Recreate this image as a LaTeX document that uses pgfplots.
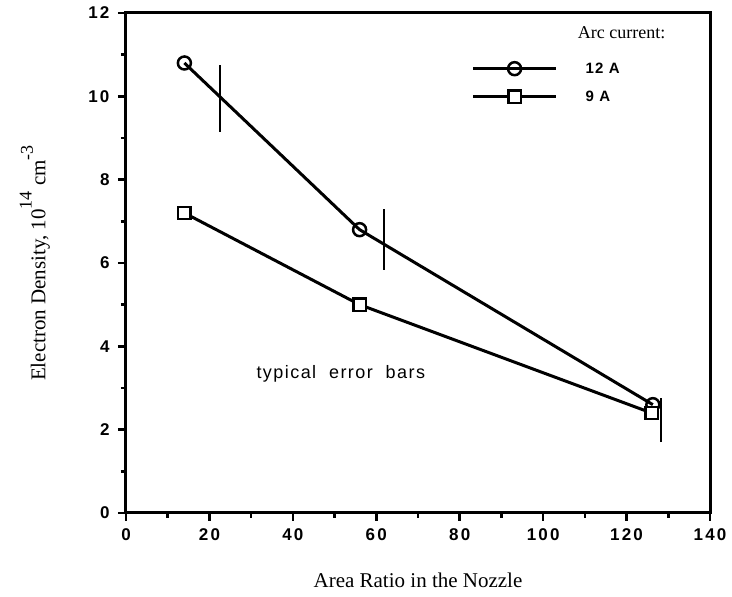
\documentclass[border=0pt]{standalone}
\usepackage{fontspec}
\setmainfont{Liberation Serif}
\setsansfont{Liberation Sans}
\newfontfamily\tickfont[LetterSpace=13]{Liberation Sans Bold}
\newfontfamily\spfont[LetterSpace=8]{Liberation Sans}
\usepackage{pgfplots}
\pgfplotsset{compat=1.18}
\begin{document}
\begin{tikzpicture}[x=1pt,y=1pt]
\path[use as bounding box] (0,0) rectangle (732,597);
\begin{axis}[
  at={(126pt,84pt)}, anchor=south west,
  scale only axis, width=584pt, height=500pt,
  xmin=0, xmax=140, ymin=0, ymax=12,
  xtick={0,20,...,140}, ytick={0,2,...,12},
  minor x tick num=1, minor y tick num=1,
  tick align=outside, tick pos=left,
  major tick length=8pt, minor tick length=5pt,
  axis line style={line width=3pt},
  every tick/.style={black, line width=2.5pt},
  tick label style={font=\tickfont\fontsize{17}{17}\selectfont},
  xticklabel style={yshift=-4pt},
  yticklabel style={xshift=-5pt},
  /pgf/number format/assume math mode=true,
  xlabel={Area Ratio in the Nozzle},
  ylabel={Electron Density, 10\raisebox{0.65em}{\fontsize{18}{18}\selectfont 14} cm\raisebox{0.6em}{\fontsize{18}{18}\selectfont -3}},
  label style={font=\fontsize{21}{21}\selectfont},
  xlabel style={at={(axis description cs:0.5,-0.134)}, anchor=center},
  ylabel style={at={(axis description cs:-0.156,0.5)}, anchor=center},
  clip=false,
  legend style={draw=none, fill=none, inner sep=0pt, at={(axis cs:82.8,10.86)}, anchor=north west,
    font=\spfont\bfseries\fontsize{15}{15}\selectfont, row sep=12pt, column sep=26pt},
  legend cell align=left,
  legend image code/.code={\draw[mark repeat=2, mark phase=2, #1] plot coordinates {(0pt,0pt) (41.5pt,0pt) (83pt,0pt)};},
]
\addplot[black, line width=3pt, mark=o, mark size=6.5pt, mark options={fill=white, line width=2.5pt}]
  coordinates {(14,10.8) (56,6.8) (126.3,2.6)};
\addlegendentry{12 A}
\addplot[black, line width=3pt, mark=square*, mark size=6.2pt, mark options={fill=white, line width=2.5pt}]
  coordinates {(14,7.2) (56,5.0) (126,2.4)};
\addlegendentry{9 A}
\addplot[black, line width=2.5pt, forget plot] coordinates {(22.5,9.15) (22.5,10.75)};
\addplot[black, line width=2.5pt, forget plot] coordinates {(61.8,5.84) (61.8,7.30)};
\addplot[black, line width=2.5pt, forget plot] coordinates {(128.3,1.70) (128.3,2.75)};
\node[font=\fontsize{18}{18}\selectfont, anchor=west] at (axis cs:107.5,11.52) {Arc current:};
\node[font=\spfont\fontsize{18}{18}\selectfont] at (axis cs:51.5,3.35) {typical\ \ error\ \ bars};
\end{axis}
\end{tikzpicture}
\end{document}
